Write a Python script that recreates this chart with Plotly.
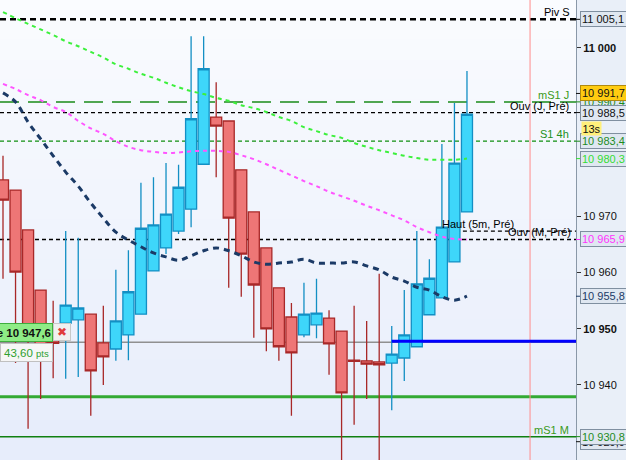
import plotly.graph_objects as go

# ---------------- data ----------------
opens = [10976.5, 10974.7, 10967.6, 10956.9, 10947.9, 10951.0, 10951.6, 10952.6, 10947.5, 10946.4,
         10948.9, 10952.6, 10960.3, 10964.4, 10967.4, 10971.3, 10979.3, 10987.7, 10987.0, 10978.3,
         10970.8, 10964.4, 10957.3, 10952.1, 10948.9, 10950.7, 10951.9, 10949.6, 10944.4, 10944.3,
         10944.1, 10943.9, 10944.8, 10946.8, 10952.5, 10955.5, 10961.9, 10970.8]
highs = [10980.8, 10974.7, 10967.6, 10956.9, 10955.0, 10967.4, 10966.2, 10952.6, 10954.1, 10960.5,
         10964.0, 10976.0, 10977.0, 10979.5, 10979.2, 11002.1, 11002.1, 10993.9, 10987.0, 10978.3,
         10970.8, 10964.4, 10957.3, 10954.6, 10958.2, 10958.9, 10953.3, 10949.6, 10954.1, 10951.4,
         10959.8, 10950.5, 10956.9, 10967.4, 10962.4, 10982.9, 10990.2, 10995.9]
lows = [10958.9, 10943.9, 10932.2, 10937.5, 10941.2, 10941.1, 10941.4, 10934.5, 10940.0, 10944.3,
        10944.4, 10952.6, 10960.3, 10963.3, 10966.9, 10968.1, 10979.3, 10977.0, 10957.3, 10955.7,
        10948.4, 10946.0, 10944.3, 10934.5, 10948.5, 10948.3, 10941.8, 10924.0, 10932.9, 10937.5,
        10924.0, 10935.5, 10940.7, 10946.8, 10952.5, 10955.5, 10961.9, 10970.8]
closes = [10972.9, 10960.1, 10948.5, 10947.0, 10947.4, 10954.2, 10953.7, 10942.5, 10945.0, 10951.4,
          10956.6, 10967.9, 10968.5, 10970.4, 10975.2, 10987.4, 10996.3, 10986.1, 10969.7, 10963.3,
          10957.8, 10950.0, 10946.8, 10945.7, 10952.6, 10952.8, 10947.3, 10938.6, 10944.2, 10943.7,
          10943.6, 10945.5, 10948.9, 10958.0, 10959.0, 10968.1, 10979.5, 10988.2]

ma_green = [11006.4, 11005.3, 11004.3, 11003.3, 11002.3, 11001.2, 11000.3, 10999.3, 10998.3, 10997.1,
            10996.3, 10995.4, 10994.7, 10993.8, 10993.0, 10992.3, 10991.8, 10991.1, 10990.6, 10989.8,
            10989.3, 10988.6, 10987.7, 10987.0, 10985.9, 10985.2, 10984.5, 10984.0, 10983.1, 10982.4,
            10981.8, 10981.3, 10980.8, 10980.4, 10980.1, 10980.1, 10980.1, 10980.3]
ma_magenta = [10993.6, 10992.7, 10991.6, 10990.7, 10989.5, 10988.6, 10987.0, 10985.7, 10984.7, 10983.4,
              10982.4, 10981.8, 10981.5, 10981.3, 10981.4, 10981.6, 10981.7, 10981.7, 10981.5, 10980.9,
              10980.2, 10979.3, 10978.3, 10977.3, 10976.3, 10975.4, 10974.4, 10973.6, 10972.8, 10971.9,
              10971.1, 10970.2, 10969.3, 10968.1, 10967.2, 10966.4, 10966.0, 10965.9]
ma_navy = [10992.0, 10990.4, 10986.8, 10983.8, 10980.8, 10977.9, 10975.4, 10972.4, 10969.7, 10967.2,
           10965.8, 10964.6, 10963.5, 10962.8, 10962.2, 10963.0, 10963.9, 10964.4, 10963.9, 10963.0,
           10961.9, 10961.5, 10961.7, 10961.9, 10962.4, 10961.7, 10961.7, 10961.7, 10961.9, 10961.2,
           10960.5, 10959.2, 10958.5, 10957.4, 10956.9, 10955.7, 10955.1, 10955.8]

x_idx = list(range(len(opens)))

tick_vals = [10940, 10950, 10960, 10970, 11000]
tick_text = ["10 940", "<b>10 950</b>", "10 960", "10 970", "<b>11 000</b>"]

# reference levels
piv_s = 11005.1
ms1_j = 10990.4
ouv_j = 10988.5
s1_4h = 10983.4
ouv_m = 10965.9
haut_5m = 10967.4
pos_level = 10947.6
blue_level = 10947.8
green_level = 10937.9
ms1_m = 10930.8
now_x = 42.03
blue_start = 31
haut_start = 35

FONT = "Liberation Sans, Arial, sans-serif"

fig = go.Figure()

# background gradient bands
shapes = []
nb = 23
for i in range(nb):
    t = i / (nb - 1)
    r = int(250 + (231 - 250) * t)
    g = int(252 + (237 - 252) * t)
    b = int(255 + (251 - 255) * t)
    shapes.append(dict(type="rect", xref="paper", yref="paper", x0=0, x1=1,
                       y0=1 - (i + 1) / nb, y1=1 - i / nb + 0.001,
                       fillcolor=f"rgb({r},{g},{b})", line=dict(width=0), layer="below"))


def hline(y, color, width, dash="solid", layer="below"):
    shapes.append(dict(type="line", xref="paper", yref="y", x0=0, x1=1, y0=y, y1=y,
                       line=dict(color=color, width=width, dash=dash), layer=layer))


hline(piv_s, "#000000", 2.5, "6px,4px")
hline(ms1_j, "#1a8a1a", 1.5, "19px,9px")
hline(ouv_j, "#000000", 1.3, "4px,3px")
hline(s1_4h, "#109010", 1.3, "4px,3px")
hline(ouv_m, "#000000", 1.3, "4px,3px")
shapes.append(dict(type="line", xref="x", yref="y", x0=haut_start, x1=45.694, y0=haut_5m, y1=haut_5m,
                   line=dict(color="#000000", width=1.3, dash="4px,3px"), layer="below"))
hline(pos_level, "#909090", 1.5)
hline(green_level, "#33aa33", 3)
hline(ms1_m, "#108010", 1.5)
shapes.append(dict(type="line", xref="x", yref="y", x0=blue_start, x1=45.694, y0=blue_level, y1=blue_level,
                   line=dict(color="#0000ff", width=3), layer="above"))
shapes.append(dict(type="line", xref="x", yref="paper", x0=now_x, x1=now_x, y0=0, y1=1,
                   line=dict(color="#ff8c8c", width=1), layer="below"))

fig.add_trace(go.Candlestick(
    x=x_idx, open=opens, high=highs, low=lows, close=closes,
    increasing=dict(line=dict(color="#138fc4", width=1.3), fillcolor="#3ed6fa"),
    decreasing=dict(line=dict(color="#a82828", width=1.3), fillcolor="#ee7676"),
    whiskerwidth=0, showlegend=False, hoverinfo="skip"))

fig.add_trace(go.Scatter(x=x_idx, y=ma_green, mode="lines", line_shape="spline",
                         line=dict(color="#3cf03c", width=2, dash="4px,4px"), hoverinfo="skip"))
fig.add_trace(go.Scatter(x=x_idx, y=ma_magenta, mode="lines", line_shape="spline",
                         line=dict(color="#ff55ff", width=2, dash="4px,4px"), hoverinfo="skip"))
fig.add_trace(go.Scatter(x=x_idx, y=ma_navy, mode="lines", line_shape="spline",
                         line=dict(color="#1b3a66", width=3, dash="6px,5px"), hoverinfo="skip"))

annotations = []


def line_label(text, y, color, x_px, anchor="right"):
    annotations.append(dict(text=text, xref="paper", yref="y", x=x_px / 576, y=y,
                            xanchor=anchor, yanchor="bottom", showarrow=False, yshift=0,
                            font=dict(family=FONT, size=11, color=color), borderpad=0))


line_label("Piv S", piv_s, "#000000", 571)
line_label("mS1 J", ms1_j, "#3a9a20", 570)
line_label("Ouv (J, Pré)", ouv_j, "#000000", 570)
line_label("S1 4h", s1_4h, "#209020", 570)
line_label("Haut (5m, Pré)", haut_5m, "#000000", 441, "left")
line_label("Ouv (M, Pré)", ouv_m, "#000000", 572)
line_label("mS1 M", ms1_m, "#3a9a20", 570)

# right price labels
price_labels = [
    (10929.9, "10 929,9", "#111111", "#dfe7f1", "#7f8fa0"),
    (ms1_m, "10 930,8", "#1e8c1e", "#dfe7f1", "#7f8fa0"),
    (10955.8, "10 955,8", "#1b3a66", "#dfe7f1", "#7f8fa0"),
    (ouv_m, "10 965,9", "#ff33ff", "#dfe7f1", "#7f8fa0"),
    (10980.3, "10 980,3", "#33dd33", "#dfe7f1", "#7f8fa0"),
    (s1_4h, "10 983,4", "#1e8c1e", "#dfe7f1", "#7f8fa0"),
    (ms1_j, "10 990,4", "#1e8c1e", "#dfe7f1", "#7f8fa0"),
    (ouv_j, "10 988,5", "#111111", "#dfe7f1", "#7f8fa0"),
    (10991.9, "10 991,7", "#111111", "#ffcc11", "#b08a10"),
    (piv_s, "11 005,1", "#111111", "#dfe7f1", "#7f8fa0"),
]
for y, txt, col, bg, bc in price_labels:
    annotations.append(dict(text=txt, xref="paper", yref="y", x=580 / 576, y=y,
                            xanchor="left", yanchor="middle", showarrow=False,
                            font=dict(family=FONT, size=11, color=col),
                            bgcolor=bg, bordercolor=bc, borderwidth=1, borderpad=1,
                            width=44, height=12, align="left"))
    shapes.append(dict(type="line", xref="paper", yref="y", x0=1.0, x1=580 / 576, y0=y, y1=y,
                       line=dict(color=col, width=1), layer="above"))

annotations.append(dict(text="13s", xref="paper", yref="y", x=581 / 576, y=10985.6,
                        xanchor="left", yanchor="middle", showarrow=False,
                        font=dict(family=FONT, size=11, color="#111111"),
                        bgcolor="#fff07a", borderpad=1, width=17, height=11))

# left position labels
annotations.append(dict(text="<b>e 10 947,6</b>", xref="paper", yref="paper", x=53 / 576,
                        y=1 - 332.5 / 460, xanchor="right", yanchor="middle", showarrow=False,
                        font=dict(family=FONT, size=11.5, color="#111111"),
                        bgcolor="#8eec86", bordercolor="#3fae3f", borderwidth=1, borderpad=1,
                        width=66, height=15, align="right"))
annotations.append(dict(text="✖", xref="paper", yref="paper", x=53 / 576,
                        y=1 - 331.5 / 460, xanchor="left", yanchor="middle", showarrow=False,
                        font=dict(family="DejaVu Sans", size=12, color="#e03c3c"),
                        bgcolor="#f0f0f0", bordercolor="#c8c8c8", borderwidth=1, borderpad=1,
                        width=14, height=14))
annotations.append(dict(text="43,60 <span style='font-size:9.5px'>pts</span>", xref="paper", yref="paper",
                        x=0, y=1 - 352.5 / 460, xanchor="left", yanchor="middle", showarrow=False,
                        font=dict(family=FONT, size=11.5, color="#2ea02e"),
                        bgcolor="#f6f6f6", bordercolor="#c0c0c0", borderwidth=1, borderpad=1,
                        width=49, height=15, align="center"))

fig.update_layout(
    width=626, height=460, margin=dict(l=0, r=50, t=0, b=0),
    paper_bgcolor="#e9eff8", plot_bgcolor="#f2f5fd", showlegend=False,
    boxgap=0.12, boxgroupgap=0,
    shapes=shapes, annotations=annotations,
    xaxis=dict(range=[-0.239, 45.694], visible=False, rangeslider=dict(visible=False),
               showgrid=False, zeroline=False),
    yaxis=dict(range=[10926.64, 11008.54], side="right", showgrid=False, zeroline=False,
               showline=True, linecolor="#8a98a8", linewidth=1, ticks="outside", ticklen=4,
               tickcolor="#333333", tickvals=tick_vals, ticktext=tick_text,
               tickfont=dict(family=FONT, size=11, color="#111111")),
)

fig.write_html("out.html", config={"displayModeBar": False},
               post_script="document.body.style.margin='0';document.body.style.padding='0';")
